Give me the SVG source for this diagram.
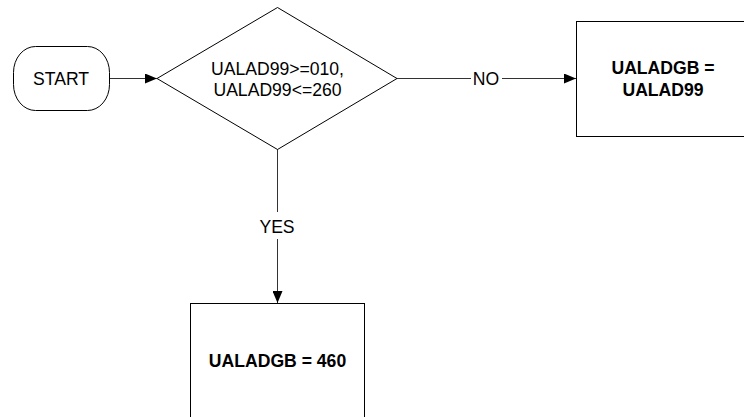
<svg xmlns="http://www.w3.org/2000/svg" width="744" height="417" viewBox="0 0 744 417">
<style>
  .shape { fill: #ffffff; stroke: #000000; stroke-width: 1; }
  .conn { fill: none; stroke: #333333; stroke-width: 1; }
  .t { font-family: "Liberation Sans", Arial, sans-serif; font-size: 17.6px; fill: #000000; text-anchor: middle; }
  .b { font-weight: bold; }
</style>
<defs>
  <marker id="arrow" viewBox="0 0 12 10" refX="12" refY="5" markerWidth="12" markerHeight="10" markerUnits="userSpaceOnUse" orient="auto">
    <path d="M0,0 L12,5 L0,10 Z" fill="#000000"/>
  </marker>
</defs>
<rect width="744" height="417" fill="#ffffff"/>
<g id="connectors">
  <line class="conn" x1="109" y1="78.5" x2="157" y2="78.5" marker-end="url(#arrow)"/>
  <polyline class="conn" points="397,78.5 471,78.5"/>
  <line class="conn" x1="502" y1="78.5" x2="576" y2="78.5" marker-end="url(#arrow)"/>
  <polyline class="conn" points="277.5,149 277.5,212"/>
  <line class="conn" x1="277.5" y1="239" x2="277.5" y2="303" marker-end="url(#arrow)"/>
  <text class="t" x="486" y="84.5">NO</text>
  <text class="t" x="277" y="232.5">YES</text>
</g>
<g id="start">
  <rect class="shape" x="13.5" y="46.5" width="96" height="64" rx="22" ry="26"/>
  <text class="t" x="61" y="84.5">START</text>
</g>
<g id="decision">
  <polygon class="shape" points="157,78.5 277.5,7.5 397,78.5 277.5,149.5"/>
  <text class="t" x="277.5" y="74.5">UALAD99&gt;=010,</text>
  <text class="t" x="277.5" y="96">UALAD99&lt;=260</text>
</g>
<g id="no-box">
  <rect class="shape" x="576.5" y="21.5" width="174" height="115"/>
  <text class="t b" x="663" y="73.5">UALADGB =</text>
  <text class="t b" x="663" y="96">UALAD99</text>
</g>
<g id="yes-box">
  <rect class="shape" x="190.5" y="303.5" width="174" height="115"/>
  <text class="t b" x="277.5" y="366.5">UALADGB = 460</text>
</g>
</svg>
